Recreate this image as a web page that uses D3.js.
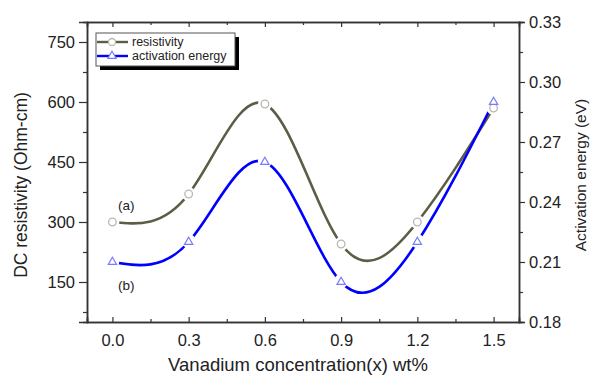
<!DOCTYPE html>
<html>
<head>
<meta charset="utf-8">
<script src="https://cdn.jsdelivr.net/npm/d3@7"></script>
<style>
  body { margin: 0; background: #fff; }
  text { font-family: Arial, "Liberation Sans", sans-serif; fill: #222; }
</style>
</head>
<body>
<div id="chart"></div>
<script>
var concentration = [0.0, 0.3, 0.6, 0.9, 1.2, 1.5];
var resistivity = [300, 370, 595, 245, 300, 585];
var activationEnergy = [0.21, 0.22, 0.26, 0.20, 0.22, 0.29];
var xTicks = [0.0, 0.3, 0.6, 0.9, 1.2, 1.5];
var leftTicks = [150, 300, 450, 600, 750];
var rightTicks = [0.18, 0.21, 0.24, 0.27, 0.30, 0.33];

var W = 593, H = 375;
var plotL = 87, plotR = 519, plotT = 22, plotB = 322;
var oliveColor = "#5d5d45", blueColor = "#0000ff";

var svg = d3.select("#chart").append("svg")
  .attr("width", W)
  .attr("height", H);

var x = d3.scaleLinear().domain([-0.1, 1.6]).range([plotL, plotR]);
var yL = d3.scaleLinear().domain([50, 800]).range([plotB, plotT]);
var yR = d3.scaleLinear().domain([0.18, 0.33]).range([plotB, plotT]);

function minors(ticks, step, scale) {
  var dom = scale.domain();
  return ticks.map(function(d){ return d + step; })
    .concat([ticks[0] - step])
    .filter(function(d){ return d > dom[0] + 1e-9 && d < dom[1] - 1e-9; });
}

// bottom axis (ticks inside)
var gx = svg.append("g").attr("transform", "translate(0," + plotB + ")")
  .call(d3.axisBottom(x).tickValues(xTicks).tickSize(-5).tickPadding(12)
    .tickFormat(d3.format(".1f")));
gx.append("g").call(d3.axisBottom(x).tickValues(minors(xTicks, 0.15, x)).tickSize(-3).tickFormat(""));

// top axis
var gt = svg.append("g").attr("transform", "translate(0," + plotT + ")")
  .call(d3.axisTop(x).tickValues(xTicks).tickSize(-5).tickFormat(""));
gt.append("g").call(d3.axisTop(x).tickValues(minors(xTicks, 0.15, x)).tickSize(-3).tickFormat(""));

// left axis (ticks outside)
var gl = svg.append("g").attr("transform", "translate(" + plotL + ",0)")
  .call(d3.axisLeft(yL).tickValues(leftTicks).tickSize(8).tickPadding(4));
gl.append("g").call(d3.axisLeft(yL).tickValues(minors(leftTicks, 75, yL)).tickSize(4).tickFormat(""));

// right axis (ticks outside)
var gr = svg.append("g").attr("transform", "translate(" + plotR + ",0)")
  .call(d3.axisRight(yR).tickValues(rightTicks).tickSize(6).tickPadding(4)
    .tickFormat(d3.format(".2f")));
gr.append("g").call(d3.axisRight(yR).tickValues(minors(rightTicks, 0.015, yR)).tickSize(4).tickFormat(""));

svg.selectAll(".domain").attr("stroke", "#333").attr("stroke-width", 1.5);
svg.selectAll(".tick line").attr("stroke", "#333").attr("stroke-width", 1.2);
svg.selectAll(".tick text").attr("font-size", 16.5).attr("fill", "#222")
  .attr("font-family", "Arial, 'Liberation Sans', sans-serif");

// curves
var lineL = d3.line()
  .x(function(d, i){ return x(concentration[i]); })
  .y(function(d){ return yL(d); })
  .curve(d3.curveNatural);
var lineR = d3.line()
  .x(function(d, i){ return x(concentration[i]); })
  .y(function(d){ return yR(d); })
  .curve(d3.curveNatural);

svg.append("path").datum(resistivity)
  .attr("d", lineL).attr("fill", "none")
  .attr("stroke", oliveColor).attr("stroke-width", 2.6);
svg.append("path").datum(activationEnergy)
  .attr("d", lineR).attr("fill", "none")
  .attr("stroke", blueColor).attr("stroke-width", 2.6);

// white halos so lines break around markers
svg.append("g").selectAll("circle").data(resistivity).enter().append("circle")
  .attr("cx", function(d, i){ return x(concentration[i]); })
  .attr("cy", function(d){ return yL(d); })
  .attr("r", 7).attr("fill", "#fff");
svg.append("g").selectAll("circle").data(activationEnergy).enter().append("circle")
  .attr("cx", function(d, i){ return x(concentration[i]); })
  .attr("cy", function(d){ return yR(d) - 1; })
  .attr("r", 7).attr("fill", "#fff");

var tri = d3.symbol().type(d3.symbolTriangle).size(30);

svg.append("g").selectAll("circle").data(resistivity).enter().append("circle")
  .attr("cx", function(d, i){ return x(concentration[i]); })
  .attr("cy", function(d){ return yL(d); })
  .attr("r", 3.8).attr("fill", "#fff")
  .attr("stroke", "#b8b8b0").attr("stroke-width", 1.3);
svg.append("g").selectAll("path").data(activationEnergy).enter().append("path")
  .attr("d", tri)
  .attr("transform", function(d, i){ return "translate(" + x(concentration[i]) + "," + yR(d) + ")"; })
  .attr("fill", "#fff")
  .attr("stroke", "#7a7aff").attr("stroke-width", 1.2);

// annotations
svg.append("text").attr("x", 118).attr("y", 210).attr("font-size", 13.5).text("(a)");
svg.append("text").attr("x", 118).attr("y", 290).attr("font-size", 13.5).text("(b)");

// axis titles
svg.append("text")
  .attr("transform", "translate(27,185) rotate(-90)")
  .attr("text-anchor", "middle").attr("font-size", 17.5)
  .text("DC resistivity (Ohm-cm)");
svg.append("text")
  .attr("transform", "translate(586,175) rotate(-90)")
  .attr("text-anchor", "middle").attr("font-size", 15.5)
  .text("Activation energy (eV)");
svg.append("text")
  .attr("x", 298).attr("y", 371)
  .attr("text-anchor", "middle").attr("font-size", 18.5)
  .text("Vanadium concentration(x) wt%");

// legend
var lg = svg.append("g").attr("transform", "translate(96,33)");
lg.append("rect").attr("x", 4).attr("y", 4).attr("width", 139).attr("height", 33).attr("fill", "#000");
lg.append("rect").attr("width", 139).attr("height", 33)
  .attr("fill", "#fff").attr("stroke", "#555").attr("stroke-width", 1);

var legendItems = [
  { name: "resistivity", color: oliveColor, marker: "circle" },
  { name: "activation energy", color: blueColor, marker: "triangle" }
];
var rows = lg.selectAll(".row").data(legendItems).enter().append("g")
  .attr("transform", function(d, i){ return "translate(0," + (9 + i * 14) + ")"; });
rows.append("line").attr("x1", 1).attr("x2", 32).attr("y1", 0).attr("y2", 0)
  .attr("stroke", function(d){ return d.color; }).attr("stroke-width", 2.4);
rows.each(function(d){
  var g = d3.select(this);
  if (d.marker === "circle") {
    g.append("circle").attr("cx", 16).attr("cy", 0).attr("r", 3.5)
      .attr("fill", "#fff").attr("stroke", "#b8b8b0").attr("stroke-width", 1.3);
  } else {
    g.append("path").attr("d", tri).attr("transform", "translate(16,0)")
      .attr("fill", "#fff").attr("stroke", "#7a7aff").attr("stroke-width", 1.2);
  }
});
rows.append("text").attr("x", 36).attr("y", 4).attr("font-size", 12.5)
  .text(function(d){ return d.name; });
</script>
</body>
</html>
